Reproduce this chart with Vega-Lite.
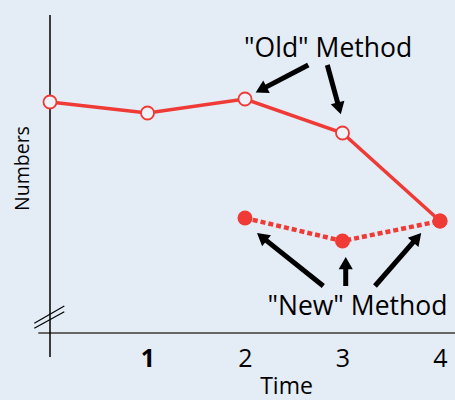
{
  "$schema": "https://vega.github.io/schema/vega-lite/v6.json",
  "width": 455,
  "height": 333,
  "autosize": "none",
  "padding": {"left": 0, "top": 0, "right": 0, "bottom": 67},
  "background": "#e4ecf6",
  "config": {
    "view": {"stroke": null},
    "font": "Open Sans"
  },
  "datasets": {
    "old": [
      {"time": 0, "value": 231},
      {"time": 1, "value": 220},
      {"time": 2, "value": 234},
      {"time": 3, "value": 200},
      {"time": 4, "value": 112}
    ],
    "new": [
      {"time": 2, "value": 115},
      {"time": 3, "value": 92},
      {"time": 4, "value": 112}
    ],
    "arrows": [
      {"id": "A", "sx": 2.649, "sy": 268, "hx": 2.165, "hy": 243.4},
      {"id": "B", "sx": 2.844, "sy": 268, "hx": 2.966, "hy": 224.6},
      {"id": "C", "sx": 2.803, "sy": 47, "hx": 2.172, "hy": 96.1},
      {"id": "D", "sx": 3.033, "sy": 47, "hx": 3.033, "hy": 69.9},
      {"id": "E", "sx": 3.333, "sy": 47, "hx": 3.766, "hy": 95.3}
    ],
    "labels": [
      {"label": "\"Old\" Method", "lx": 1.99, "ly": 275.7},
      {"label": "\"New\" Method", "lx": 2.23, "ly": 18}
    ]
  },
  "layer": [
    {
      "data": {"values": [{"x": -0.12, "x2": 4.1538, "y": 0}]},
      "mark": {"type": "rule", "color": "#666666", "strokeWidth": 2},
      "encoding": {
        "x": {"field": "x", "type": "quantitative",
          "scale": {"domain": [-0.5128, 4.1538], "nice": false, "zero": false},
          "axis": {"values": [1, 2, 3, 4], "format": "d", "domain": false, "ticks": false, "tickSize": 0, "grid": false,
            "labelFontSize": 25, "labelColor": "#000000", "labelBaseline": "alphabetic", "labelPadding": 33,
            "labelFontWeight": {"condition": {"test": "datum.value == 1", "value": "bold"}, "value": "normal"},
            "title": "Time", "titleFontSize": 23, "titleFontWeight": "normal", "titleColor": "#000000",
            "titleX": 286, "titleY": 60, "titleBaseline": "alphabetic", "titleAlign": "center", "titleAnchor": null}},
        "x2": {"field": "x2"},
        "y": {"field": "y", "type": "quantitative",
          "scale": {"domain": [0, 333], "nice": false, "zero": false},
          "axis": {"domain": false, "ticks": false, "labels": false, "grid": false,
            "title": "Numbers", "titleFontSize": 19.5, "titleFontWeight": "normal", "titleColor": "#000000",
            "titleAngle": -90, "titleX": 28, "titleY": 168, "titleBaseline": "alphabetic", "titleAlign": "center"}}
      }
    },
    {
      "data": {"values": [{"x": 0, "y": 318, "y2": -24}]},
      "mark": {"type": "rule", "color": "#000000", "strokeWidth": 1.5},
      "encoding": {
        "x": {"field": "x", "type": "quantitative"},
        "y": {"field": "y", "type": "quantitative"},
        "y2": {"field": "y2"}
      }
    },
    {
      "data": {"values": [
        {"x": -0.161, "y": 9.7, "x2": 0.1467, "y2": 27},
        {"x": -0.161, "y": 4.7, "x2": 0.1467, "y2": 21.3}
      ]},
      "mark": {"type": "rule", "color": "#000000", "strokeWidth": 1.2},
      "encoding": {
        "x": {"field": "x", "type": "quantitative"},
        "x2": {"field": "x2"},
        "y": {"field": "y", "type": "quantitative"},
        "y2": {"field": "y2"}
      }
    },
    {
      "data": {"name": "old"},
      "mark": {"type": "line", "color": "#ef3a36", "strokeWidth": 3.5},
      "encoding": {
        "x": {"field": "time", "type": "quantitative"},
        "y": {"field": "value", "type": "quantitative"}
      }
    },
    {
      "data": {"name": "old"},
      "mark": {"type": "point", "shape": "circle", "filled": true, "fill": "#eef3f9", "stroke": "#ef3a36", "strokeWidth": 1.8, "size": 170, "opacity": 1},
      "encoding": {
        "x": {"field": "time", "type": "quantitative"},
        "y": {"field": "value", "type": "quantitative"}
      }
    },
    {
      "data": {"name": "new"},
      "mark": {"type": "line", "color": "#ef3a36", "strokeWidth": 4.5, "strokeDash": [5, 3]},
      "encoding": {
        "x": {"field": "time", "type": "quantitative"},
        "y": {"field": "value", "type": "quantitative"}
      }
    },
    {
      "data": {"name": "new"},
      "mark": {"type": "point", "shape": "circle", "filled": true, "color": "#ef3a36", "size": 225, "opacity": 1},
      "encoding": {
        "x": {"field": "time", "type": "quantitative"},
        "y": {"field": "value", "type": "quantitative"}
      }
    },
    {
      "data": {"name": "arrows"},
      "mark": {"type": "rule", "color": "#000000", "strokeWidth": 5},
      "encoding": {
        "x": {"field": "sx", "type": "quantitative"},
        "x2": {"field": "hx"},
        "y": {"field": "sy", "type": "quantitative"},
        "y2": {"field": "hy"}
      }
    },
    {
      "data": {"name": "arrows"},
      "transform": [{"filter": "datum.id == 'A'"}],
      "mark": {"type": "point", "shape": "triangle-up", "angle": 242.4, "filled": true, "color": "#000000", "size": 200, "opacity": 1},
      "encoding": {"x": {"field": "hx", "type": "quantitative"}, "y": {"field": "hy", "type": "quantitative"}}
    },
    {
      "data": {"name": "arrows"},
      "transform": [{"filter": "datum.id == 'B'"}],
      "mark": {"type": "point", "shape": "triangle-up", "angle": 164.7, "filled": true, "color": "#000000", "size": 200, "opacity": 1},
      "encoding": {"x": {"field": "hx", "type": "quantitative"}, "y": {"field": "hy", "type": "quantitative"}}
    },
    {
      "data": {"name": "arrows"},
      "transform": [{"filter": "datum.id == 'C'"}],
      "mark": {"type": "point", "shape": "triangle-up", "angle": 308.6, "filled": true, "color": "#000000", "size": 200, "opacity": 1},
      "encoding": {"x": {"field": "hx", "type": "quantitative"}, "y": {"field": "hy", "type": "quantitative"}}
    },
    {
      "data": {"name": "arrows"},
      "transform": [{"filter": "datum.id == 'D'"}],
      "mark": {"type": "point", "shape": "triangle-up", "angle": 0, "filled": true, "color": "#000000", "size": 200, "opacity": 1},
      "encoding": {"x": {"field": "hx", "type": "quantitative"}, "y": {"field": "hy", "type": "quantitative"}}
    },
    {
      "data": {"name": "arrows"},
      "transform": [{"filter": "datum.id == 'E'"}],
      "mark": {"type": "point", "shape": "triangle-up", "angle": 41.1, "filled": true, "color": "#000000", "size": 200, "opacity": 1},
      "encoding": {"x": {"field": "hx", "type": "quantitative"}, "y": {"field": "hy", "type": "quantitative"}}
    },
    {
      "data": {"name": "labels"},
      "mark": {"type": "text", "align": "left", "baseline": "alphabetic", "fontSize": 26.5, "color": "#000000"},
      "encoding": {
        "x": {"field": "lx", "type": "quantitative"},
        "y": {"field": "ly", "type": "quantitative"},
        "text": {"field": "label"}
      }
    }
  ]
}
